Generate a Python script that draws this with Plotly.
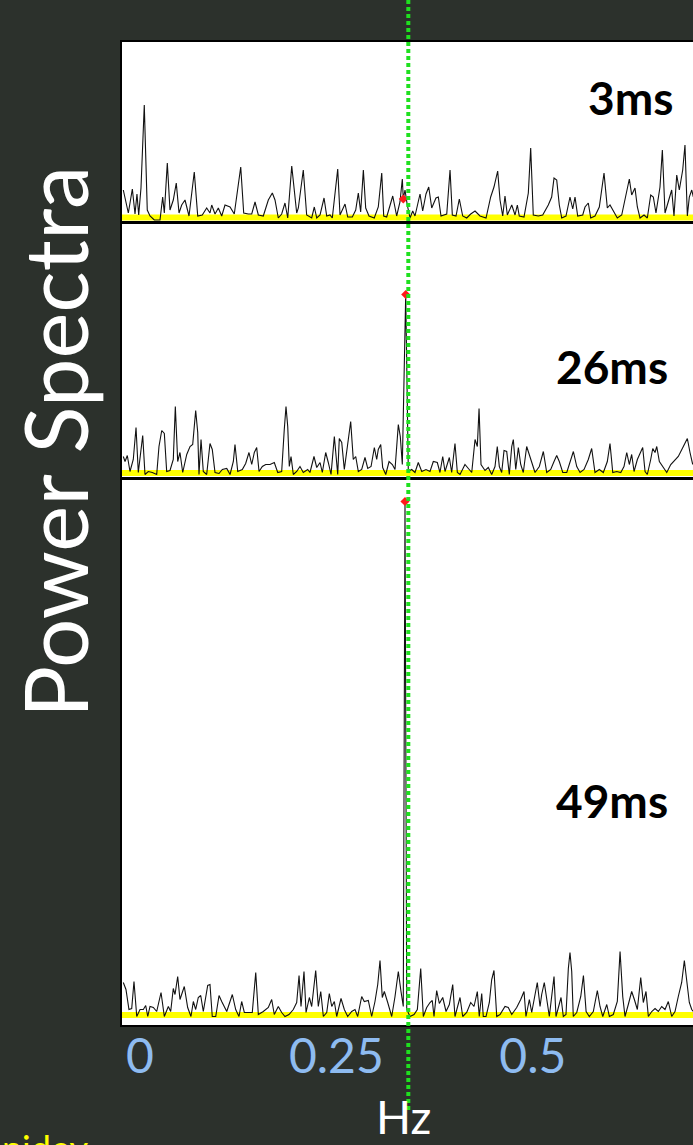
import plotly.graph_objects as go

# ---- power spectra, frequency in Hz, power in arbitrary units ----
f_3ms = [-0.0210, -0.0146, -0.0095, -0.0061, -0.0036, -0.0014, 0.0015, 0.0057, 0.0095, 0.0130,
         0.0184, 0.0257, 0.0291, 0.0312, 0.0350, 0.0384, 0.0426, 0.0464, 0.0499, 0.0533,
         0.0575, 0.0626, 0.0693, 0.0737, 0.0795, 0.0851, 0.0893, 0.0915, 0.0957, 0.0999,
         0.1042, 0.1084, 0.1148, 0.1202, 0.1284, 0.1322, 0.1380, 0.1424, 0.1466, 0.1508,
         0.1571, 0.1635, 0.1686, 0.1720, 0.1762, 0.1805, 0.1847, 0.1882, 0.1933, 0.1975,
         0.1996, 0.2017, 0.2080, 0.2123, 0.2187, 0.2220, 0.2251, 0.2293, 0.2344, 0.2378,
         0.2420, 0.2449, 0.2518, 0.2547, 0.2611, 0.2645, 0.2704, 0.2747, 0.2780, 0.2810,
         0.2844, 0.2874, 0.2916, 0.2983, 0.3034, 0.3078, 0.3103, 0.3141, 0.3218, 0.3268,
         0.3310, 0.3340, 0.3352, 0.3374, 0.3403, 0.3438, 0.3472, 0.3501, 0.3565, 0.3599,
         0.3641, 0.3676, 0.3714, 0.3768, 0.3798, 0.3832, 0.3905, 0.3947, 0.3976, 0.4023,
         0.4065, 0.4108, 0.4159, 0.4210, 0.4265, 0.4328, 0.4405, 0.4464, 0.4506, 0.4553,
         0.4583, 0.4617, 0.4646, 0.4676, 0.4732, 0.4774, 0.4803, 0.4828, 0.4888, 0.4943,
         0.4973, 0.5006, 0.5070, 0.5126, 0.5197, 0.5240, 0.5270, 0.5304, 0.5337, 0.5368,
         0.5422, 0.5473, 0.5508, 0.5537, 0.5571, 0.5635, 0.5664, 0.5706, 0.5737, 0.5791,
         0.5846, 0.5906, 0.5948, 0.5982, 0.6024, 0.6075, 0.6131, 0.6186, 0.6228, 0.6258,
         0.6300, 0.6330, 0.6364, 0.6415, 0.6457, 0.6500, 0.6533, 0.6567, 0.6618, 0.6648,
         0.6682, 0.6737, 0.6767, 0.6796, 0.6831, 0.6864, 0.6907, 0.6936, 0.6966, 0.6991,
         0.7022, 0.7042]
p_3ms = [30, 7, 31, 6, 26, 5, 32, 115, 10, 4,
         0, 0, 23, 7, 57, 10, 20, 37, 7, 15,
         20, 4, 48, 4, 5, 12, 7, 15, 6, 12,
         4, 15, 13, 6, 53, 7, 6, 6, 18, 5,
         4, 20, 27, 20, 2, 6, 17, 2, 54, 20,
         7, 12, 50, 5, 2, 13, 2, 5, 22, 4,
         5, 2, 51, 5, 16, 3, 3, 10, 27, 8,
         50, 12, 4, 2, 13, 47, 4, 3, 24, 4,
         18, 41, 21, 30, 15, 2, 9, 4, 26, 9,
         26, 33, 12, 22, 23, 4, 6, 50, 5, 4,
         21, 4, 2, 6, 9, 4, 2, 23, 33, 49,
         20, 4, 24, 5, 15, 5, 15, 4, 3, 27,
         72, 5, 4, 5, 15, 23, 42, 40, 15, 2,
         4, 23, 11, 23, 4, 5, 13, 17, 2, 4,
         13, 47, 12, 15, 9, 2, 5, 24, 41, 25,
         32, 13, 2, 5, 2, 25, 23, 7, 33, 70,
         7, 22, 30, 4, 45, 30, 50, 75, 4, 23,
         30, 23]

f_26ms = [-0.0210, -0.0188, -0.0159, -0.0125, -0.0083, -0.0048, -0.0019, 0.0011, 0.0037, 0.0066,
          0.0108, 0.0159, 0.0215, 0.0244, 0.0279, 0.0312, 0.0342, 0.0384, 0.0426, 0.0452,
          0.0482, 0.0511, 0.0546, 0.0597, 0.0639, 0.0673, 0.0690, 0.0711, 0.0737, 0.0753,
          0.0779, 0.0808, 0.0851, 0.0893, 0.0922, 0.0957, 0.1008, 0.1050, 0.1106, 0.1148,
          0.1190, 0.1211, 0.1246, 0.1304, 0.1347, 0.1389, 0.1424, 0.1457, 0.1487, 0.1517,
          0.1559, 0.1602, 0.1657, 0.1711, 0.1755, 0.1805, 0.1838, 0.1860, 0.1882, 0.1902,
          0.1924, 0.1953, 0.1996, 0.2038, 0.2080, 0.2136, 0.2165, 0.2216, 0.2251, 0.2293,
          0.2322, 0.2365, 0.2398, 0.2433, 0.2475, 0.2496, 0.2518, 0.2538, 0.2569, 0.2602,
          0.2653, 0.2683, 0.2716, 0.2747, 0.2780, 0.2823, 0.2865, 0.2900, 0.2942, 0.2984,
          0.3014, 0.3034, 0.3065, 0.3090, 0.3129, 0.3171, 0.3213, 0.3247, 0.3289, 0.3314,
          0.3340, 0.3365, 0.3383, 0.3416, 0.3459, 0.3501, 0.3543, 0.3587, 0.3641, 0.3692,
          0.3734, 0.3785, 0.3819, 0.3854, 0.3883, 0.3938, 0.3968, 0.4010, 0.4040, 0.4074,
          0.4137, 0.4180, 0.4223, 0.4265, 0.4294, 0.4316, 0.4341, 0.4392, 0.4434, 0.4477,
          0.4519, 0.4548, 0.4574, 0.4604, 0.4634, 0.4668, 0.4701, 0.4732, 0.4752, 0.4783,
          0.4816, 0.4846, 0.4879, 0.4922, 0.4973, 0.5028, 0.5083, 0.5134, 0.5177, 0.5228,
          0.5270, 0.5304, 0.5337, 0.5381, 0.5432, 0.5473, 0.5516, 0.5559, 0.5601, 0.5652,
          0.5706, 0.5749, 0.5791, 0.5846, 0.5897, 0.5948, 0.5982, 0.6017, 0.6068, 0.6119,
          0.6160, 0.6195, 0.6228, 0.6258, 0.6288, 0.6330, 0.6373, 0.6398, 0.6428, 0.6457,
          0.6500, 0.6526, 0.6555, 0.6577, 0.6610, 0.6661, 0.6704, 0.6755, 0.6796, 0.6851,
          0.6915, 0.6966, 0.7000, 0.7034]
p_26ms = [19, 14, 20, 4, 16, 48, 3, 21, 40, 1,
          4, 3, 1, 29, 45, 42, 4, 5, 16, 69,
          14, 23, 3, 21, 29, 31, 48, 65, 43, 1,
          36, 4, 1, 32, 26, 3, 2, 6, 7, 1,
          14, 31, 4, 6, 12, 23, 11, 23, 28, 4,
          9, 11, 11, 13, 3, 4, 46, 69, 49, 9,
          19, 1, 4, 9, 3, 6, 3, 19, 8, 13,
          3, 23, 13, 1, 39, 16, 1, 37, 33, 6,
          39, 54, 16, 19, 4, 6, 18, 7, 9, 28,
          16, 26, 31, 8, 1, 14, 11, 6, 51, 39,
          11, 138, 181, 4, 6, 3, 13, 4, 6, 4,
          14, 13, 3, 19, 4, 18, 3, 32, 3, 1,
          11, 7, 3, 36, 29, 67, 11, 5, 8, 1,
          9, 29, 9, 3, 25, 24, 1, 29, 36, 6,
          28, 11, 3, 29, 16, 3, 9, 24, 3, 6,
          14, 20, 14, 3, 3, 14, 24, 9, 3, 6,
          16, 27, 3, 6, 3, 14, 32, 3, 4, 3,
          9, 23, 11, 21, 4, 16, 24, 28, 4, 1,
          16, 27, 23, 29, 14, 8, 3, 11, 14, 19,
          29, 37, 23, 11]

f_49ms = [-0.0210, -0.0176, -0.0138, -0.0103, -0.0074, -0.0039, 0.0003, 0.0045, 0.0075, 0.0101,
          0.0130, 0.0172, 0.0215, 0.0270, 0.0312, 0.0363, 0.0393, 0.0426, 0.0448, 0.0482,
          0.0511, 0.0566, 0.0609, 0.0651, 0.0681, 0.0711, 0.0744, 0.0775, 0.0808, 0.0864,
          0.0893, 0.0922, 0.0966, 0.1008, 0.1042, 0.1106, 0.1177, 0.1220, 0.1262, 0.1296,
          0.1330, 0.1380, 0.1431, 0.1475, 0.1508, 0.1571, 0.1635, 0.1678, 0.1711, 0.1762,
          0.1805, 0.1847, 0.1898, 0.1953, 0.1996, 0.2026, 0.2051, 0.2089, 0.2115, 0.2157,
          0.2187, 0.2238, 0.2271, 0.2302, 0.2335, 0.2378, 0.2411, 0.2442, 0.2475, 0.2505,
          0.2560, 0.2602, 0.2645, 0.2696, 0.2738, 0.2772, 0.2823, 0.2856, 0.2907, 0.2950,
          0.2992, 0.3027, 0.3056, 0.3085, 0.3111, 0.3154, 0.3205, 0.3247, 0.3289, 0.3323,
          0.3352, 0.3374, 0.3396, 0.3438, 0.3489, 0.3531, 0.3574, 0.3607, 0.3650, 0.3692,
          0.3721, 0.3743, 0.3777, 0.3811, 0.3854, 0.3896, 0.3938, 0.3981, 0.4010, 0.4040,
          0.4074, 0.4108, 0.4159, 0.4210, 0.4252, 0.4294, 0.4319, 0.4350, 0.4370, 0.4405,
          0.4447, 0.4477, 0.4506, 0.4541, 0.4583, 0.4646, 0.4688, 0.4732, 0.4795, 0.4846,
          0.4888, 0.4913, 0.4956, 0.4986, 0.5028, 0.5057, 0.5092, 0.5113, 0.5146, 0.5177,
          0.5210, 0.5240, 0.5270, 0.5295, 0.5325, 0.5359, 0.5388, 0.5422, 0.5452, 0.5473,
          0.5495, 0.5515, 0.5559, 0.5610, 0.5644, 0.5678, 0.5719, 0.5770, 0.5821, 0.5855,
          0.5890, 0.5941, 0.5974, 0.6024, 0.6075, 0.6110, 0.6144, 0.6173, 0.6215, 0.6258,
          0.6292, 0.6330, 0.6373, 0.6406, 0.6440, 0.6470, 0.6513, 0.6555, 0.6597, 0.6640,
          0.6682, 0.6724, 0.6767, 0.6809, 0.6851, 0.6894, 0.6928, 0.6959, 0.6991, 0.7022,
          0.7042]
p_49ms = [35, 28, 8, 9, 36, 1, 8, 8, 12, 1,
          11, 10, 6, 25, 1, 11, 6, 29, 23, 41,
          18, 31, 10, 1, 16, 8, 20, 22, 6, 32,
          33, 1, 1, 22, 16, 6, 23, 8, 1, 16,
          5, 5, 5, 45, 3, 6, 10, 18, 3, 11,
          5, 1, 3, 8, 15, 42, 11, 46, 5, 20,
          11, 47, 11, 26, 1, 5, 24, 11, 16, 1,
          19, 8, 1, 6, 8, 1, 21, 16, 17, 1,
          16, 33, 57, 20, 26, 15, 1, 21, 46, 26,
          11, 516, 8, 1, 3, 8, 49, 1, 10, 15,
          17, 1, 27, 14, 20, 6, 13, 33, 1, 10,
          20, 1, 5, 15, 11, 26, 1, 24, 1, 1,
          15, 38, 47, 1, 3, 11, 10, 3, 10, 18,
          26, 1, 18, 5, 23, 35, 11, 23, 35, 20,
          1, 21, 41, 1, 11, 20, 1, 3, 49, 65,
          46, 1, 5, 21, 42, 6, 1, 6, 27, 11,
          1, 13, 1, 3, 16, 66, 21, 1, 13, 26,
          18, 8, 40, 15, 26, 1, 6, 9, 6, 11,
          8, 16, 1, 6, 21, 35, 57, 38, 15, 8,
          6]

panel_labels = ["3ms", "26ms", "49ms"]
frequencies = [f_3ms, f_26ms, f_49ms]
powers = [p_3ms, p_26ms, p_49ms]

# spectral value at the marked frequency in each panel
marker_f = [0.3352, 0.3383, 0.3374]
marker_p = [21, 181, 516]

# reference frequency of the dotted guide line
guide_f = 0.3416
noise_floor = 2.5

tick_vals = [0, 0.25, 0.5]
tick_text = ["0", "0.25", "0.5"]

# ---- layout geometry ----
W, H = 693, 1145
X_RANGE = [-0.02265, 0.7038]
y_ranges = [[-2, 178], [-1.5, 253], [-7.5, 537.8]]
y_domains = [[1 - 222 / H, 1 - 42 / H],
             [1 - 477 / H, 1 - 222.5 / H],
             [1 - 1025 / H, 1 - 479.7 / H]]
label_pos = [(630, 97), (612, 366), (612, 800)]
FONT = "Comic Sans MS, Lato, sans-serif"

fig = go.Figure()

for i in range(3):
    xa = "x" if i == 0 else f"x{i+1}"
    ya = "y" if i == 0 else f"y{i+1}"
    fig.add_trace(go.Scatter(x=[X_RANGE[0], X_RANGE[1]], y=[noise_floor, noise_floor],
                             mode="lines", line=dict(color="#ffff00", width=6),
                             xaxis=xa, yaxis=ya, hoverinfo="skip"))
    fig.add_trace(go.Scatter(x=frequencies[i], y=powers[i], mode="lines",
                             line=dict(color="#111111", width=1.1),
                             xaxis=xa, yaxis=ya))
    fig.add_trace(go.Scatter(x=[marker_f[i]], y=[marker_p[i]], mode="markers",
                             marker=dict(symbol="diamond", size=7, color="#ff1a1a"),
                             xaxis=xa, yaxis=ya, cliponaxis=False))

layout = dict(
    width=W, height=H,
    margin=dict(l=0, r=0, t=0, b=0),
    paper_bgcolor="#2c312c",
    plot_bgcolor="#ffffff",
    showlegend=False,
)

for i in range(3):
    xkey = "xaxis" if i == 0 else f"xaxis{i+1}"
    ykey = "yaxis" if i == 0 else f"yaxis{i+1}"
    bottom = i == 2
    layout[xkey] = dict(
        domain=[122 / W, 1], range=X_RANGE, anchor="y" if i == 0 else f"y{i+1}",
        showgrid=False, zeroline=False, showline=True, mirror=True,
        linecolor="#000000", linewidth=2,
        tickvals=tick_vals, ticktext=tick_text, ticks="",
        showticklabels=bottom,
        tickfont=dict(family=FONT, size=48, color="#8ebbf0"),
        ticklabelstandoff=-12,
    )
    layout[ykey] = dict(
        domain=y_domains[i], range=y_ranges[i], anchor="x" if i == 0 else f"x{i+1}",
        showgrid=False, zeroline=False, showticklabels=False,
        showline=True, linecolor="#000000", linewidth=2,
    )

fig.update_layout(**layout)

# white backing behind the stacked panels
fig.add_shape(type="rect", xref="paper", yref="paper",
              x0=122 / W, x1=1, y0=1 - 1025 / H, y1=1 - 42 / H,
              fillcolor="#ffffff", line=dict(width=0), layer="below")

# dotted guide line at the reference frequency
fig.add_shape(type="line", xref="x3", yref="paper",
              x0=guide_f, x1=guide_f, y0=1, y1=1 - 1110 / H,
              line=dict(color="#1fe01f", width=4, dash="4px,3px"), layer="above")

for (px, py), txt in zip(label_pos, panel_labels):
    fig.add_annotation(x=px / W, y=1 - py / H, xref="paper", yref="paper",
                       xanchor="center", yanchor="middle",
                       text=f"<b>{txt}</b>", showarrow=False,
                       font=dict(family=FONT, size=46, color="#000000"))

fig.add_annotation(x=55 / W, y=1 - 442 / H, xref="paper", yref="paper",
                   xanchor="center", yanchor="middle", borderpad=0,
                   text="Power Spectra", textangle=-90, showarrow=False,
                   font=dict(family=FONT, size=87, color="#ffffff"))

fig.add_annotation(x=403 / W, y=1 - 1116 / H, xref="paper", yref="paper",
                   xanchor="center", yanchor="middle", borderpad=0,
                   text="Hz", showarrow=False,
                   font=dict(family=FONT, size=46, color="#ffffff"))

fig.add_annotation(x=0, y=1 - 1124 / H, xref="paper", yref="paper",
                   xanchor="left", yanchor="top", text="nidey", showarrow=False,
                   font=dict(family=FONT, size=36, color="#ffff00"))

fig.write_html("out.html")
